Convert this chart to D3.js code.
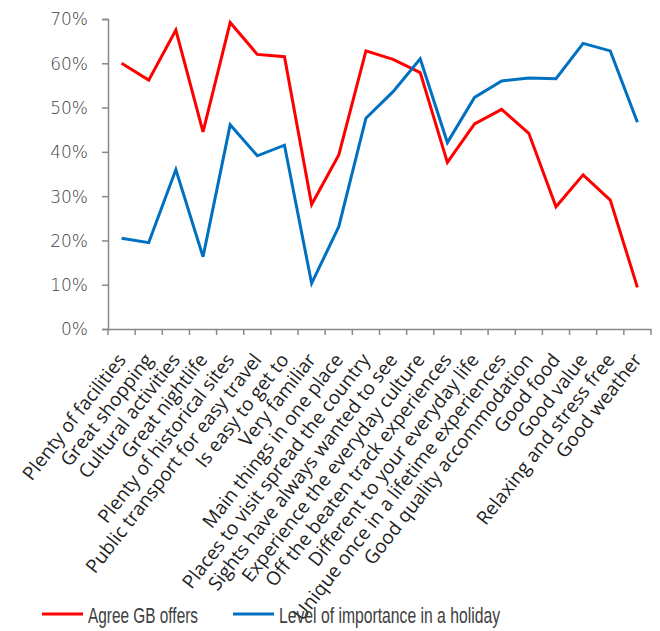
<!DOCTYPE html>
<html><head><meta charset="utf-8">
<script src="https://cdn.jsdelivr.net/npm/d3@7"></script>
<style>body{margin:0;background:#fff}svg{display:block}text{fill:#404040}</style>
</head><body><svg id="c" width="660" height="631"></svg>
<script>
const categories = ["Plenty of facilities","Great shopping","Cultural activities","Great nightlife","Plenty of historical sites","Public transport for easy travel","Is easy to get to","Very familiar","Main things in one place","Places to visit spread the country","Sights have always wanted to see","Experience the everyday culture","Off the beaten track experiences","Different to your everyday life","Unique once in a lifetime experiences","Good quality accommodation","Good food","Good value","Relaxing and stress free","Good weather"];
const agreeGB = [60.0,56.2,67.5,44.5,69.2,62.0,61.5,28.1,39.3,62.8,60.9,57.9,37.6,46.3,49.6,44.2,27.6,34.8,29.1,9.4];
const importance = [20.5,19.5,36.0,16.3,46.1,39.1,41.5,10.3,23.1,47.6,53.6,61.0,42.1,52.3,56.0,56.7,56.5,64.5,62.8,46.7];
const yTicks = [0,10,20,30,40,50,60,70];
const seriesNames = ["Agree GB offers","Level of importance in a holiday"];
const colors = ["#FF0000","#0070C0"];

const svg = d3.select("#c");
const mLeft=108, mRight=651, mTop=19, mBottom=329;
const x = d3.scaleBand().domain(categories).range([mLeft,mRight]);
const y = d3.scaleLinear().domain([0,70]).range([mBottom,mTop]);

// y axis
const ya = svg.append("g").attr("transform",`translate(${mLeft},0)`)
  .call(d3.axisLeft(y).tickValues(yTicks).tickFormat(d=>d+"%").tickSize(6).tickPadding(14));
ya.select(".domain").attr("stroke","#898989").attr("stroke-width",1.5);
ya.selectAll(".tick line").attr("stroke","#898989").attr("stroke-width",1.5);
ya.selectAll(".tick text").style("font-size","17px").style("fill","#404040")
  .style("font-family","'DejaVu Sans',sans-serif").style("font-weight","200").attr("dy","0.35em");

// x axis
const xa = svg.append("g").attr("transform",`translate(0,${mBottom})`)
  .call(d3.axisBottom(x).tickSize(0).tickFormat(""));
xa.select(".domain").attr("stroke","#898989").attr("stroke-width",1.5);
const edges = categories.map(c=>x(c)).concat([mRight]);
xa.selectAll("line.edge").data(edges).enter().append("line").attr("class","edge")
  .attr("x1",d=>d).attr("x2",d=>d).attr("y1",0).attr("y2",6)
  .attr("stroke","#898989").attr("stroke-width",1.5);
xa.selectAll("text.lbl").data(categories).enter().append("text").attr("class","lbl")
  .attr("transform",d=>`translate(${x(d)+x.bandwidth()/2},27) rotate(-52)`)
  .attr("text-anchor","end").attr("dy","0.35em")
  .style("font-size","19px").style("fill","#1e1e1e").style("font-family","'Open Sans',sans-serif").text(d=>d);

// lines
const line = d3.line().x((d,i)=>x(categories[i])+x.bandwidth()/2).y(d=>y(d));
[agreeGB, importance].forEach((s,k)=>{
  svg.append("path").datum(s).attr("d",line).attr("fill","none")
    .attr("stroke",colors[k]).attr("stroke-width",3).attr("stroke-linejoin","miter");
});

// legend
const legX = [42,233];
const legW = [110,221];
seriesNames.forEach((n,k)=>{
  svg.append("line").attr("x1",legX[k]).attr("x2",legX[k]+41).attr("y1",614).attr("y2",614)
    .attr("stroke",colors[k]).attr("stroke-width",3);
  svg.append("text").attr("x",legX[k]+46).attr("y",615).attr("dy","0.35em")
    .attr("textLength",legW[k]).attr("lengthAdjust","spacingAndGlyphs")
    .style("font-size","21.5px").style("font-family","'Liberation Sans',sans-serif").text(n);
});
</script></body></html>
